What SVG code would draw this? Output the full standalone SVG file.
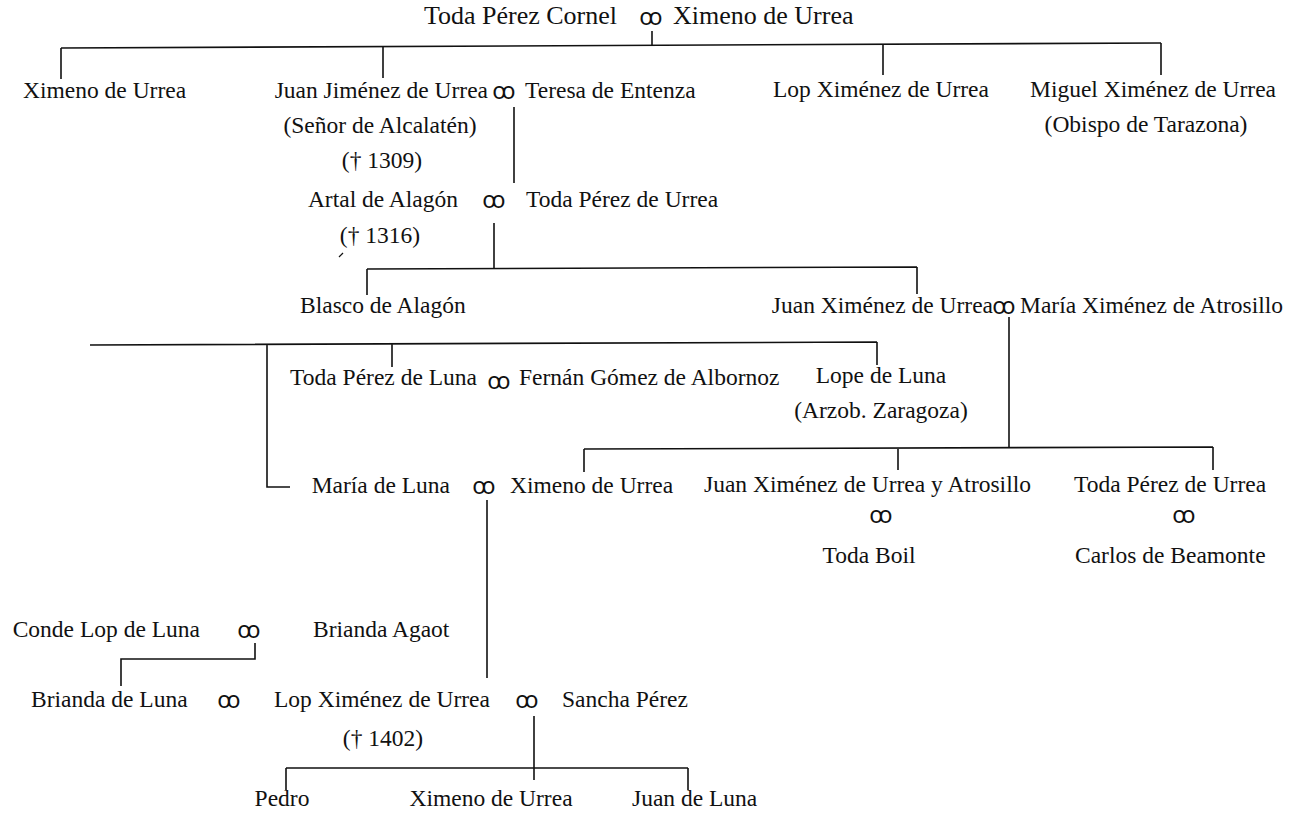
<svg xmlns="http://www.w3.org/2000/svg" width="1290" height="815" viewBox="0 0 1290 815">
<style>
text{font-family:"Liberation Serif","Times New Roman",serif;font-size:23.5px;fill:#111}
.t{font-size:26px}
.m{font-family:"Noto Sans","DejaVu Sans",sans-serif;font-size:23px;font-weight:normal;text-anchor:middle}
.e{text-anchor:end}
.mid{text-anchor:middle}
.c{fill:none;stroke:#111;stroke-width:1.6}
</style>
<rect width="1290" height="815" fill="#fff"/>
<g id="connectors" class="c">
<path d="M652,31V46"/>
<path d="M61,48L1161,43"/>
<path d="M61,48V79M383,46.5V78M883,44.3V75M1161,43V75"/>
<path d="M514,107V183"/>
<path d="M494,223V268"/>
<path d="M367,269L917,267M367,269V295M917,267V294"/>
<path d="M1009,317V447"/>
<path d="M90,345L877,342M267,345V487H290M392,344.5V367M877,342V365"/>
<path d="M584,449L1213,447M584,449V472M898,447.5V470M1213,447V470"/>
<path d="M487,500V678"/>
<path d="M255,643V659H121V686"/>
<path d="M534,716V780"/>
<path d="M286,768H688M286,768V790M688,768V790"/>
<path d="M339,257L343,253" stroke-width="1.2"/>
</g>
<g id="n-toda-cornel"><text x="617" y="24" class="t e">Toda Pérez Cornel</text></g>
<g id="m1"><text x="651" y="25" class="m">ꝏ</text></g>
<g id="n-ximeno-1"><text x="673" y="24" class="t">Ximeno de Urrea</text></g>
<g id="n-ximeno-2"><text x="23" y="98">Ximeno de Urrea</text></g>
<g id="n-juan-jimenez"><text x="488" y="98" class="e">Juan Jiménez de Urrea</text><text x="380" y="133" class="mid">(Señor de Alcalatén)</text><text x="382" y="168" class="mid">(† 1309)</text></g>
<g id="m2"><text x="504" y="99" class="m">ꝏ</text></g>
<g id="n-teresa"><text x="525" y="98">Teresa de Entenza</text></g>
<g id="n-lop-1"><text x="773" y="97">Lop Ximénez de Urrea</text></g>
<g id="n-miguel"><text x="1030" y="97">Miguel Ximénez de Urrea</text><text x="1146" y="132" class="mid">(Obispo de Tarazona)</text></g>
<g id="n-artal"><text x="458" y="207" class="e">Artal de Alagón</text><text x="380" y="243" class="mid">(† 1316)</text></g>
<g id="m3"><text x="494" y="208" class="m">ꝏ</text></g>
<g id="n-toda-urrea-1"><text x="526" y="207">Toda Pérez de Urrea</text></g>
<g id="n-blasco"><text x="300" y="313">Blasco de Alagón</text></g>
<g id="n-juan-ximenez"><text x="993" y="313" class="e">Juan Ximénez de Urrea</text></g>
<g id="m4"><text x="1004" y="314" class="m">ꝏ</text></g>
<g id="n-maria-atrosillo"><text x="1020" y="313">María Ximénez de Atrosillo</text></g>
<g id="n-toda-luna"><text x="477" y="385" class="e">Toda Pérez de Luna</text></g>
<g id="m5"><text x="499" y="389" class="m">ꝏ</text></g>
<g id="n-fernan"><text x="519" y="385">Fernán Gómez de Albornoz</text></g>
<g id="n-lope"><text x="881" y="383" class="mid">Lope de Luna</text><text x="881" y="418" class="mid">(Arzob. Zaragoza)</text></g>
<g id="n-maria-luna"><text x="450" y="493" class="e">María de Luna</text></g>
<g id="m6"><text x="484" y="494" class="m">ꝏ</text></g>
<g id="n-ximeno-3"><text x="510" y="493">Ximeno de Urrea</text></g>
<g id="n-juan-atrosillo"><text x="704" y="492">Juan Ximénez de Urrea y Atrosillo</text></g>
<g id="m7"><text x="881" y="523" class="m">ꝏ</text></g>
<g id="n-toda-boil"><text x="869" y="563" class="mid">Toda Boil</text></g>
<g id="n-toda-urrea-2"><text x="1074" y="492">Toda Pérez de Urrea</text></g>
<g id="m8"><text x="1184" y="523" class="m">ꝏ</text></g>
<g id="n-carlos"><text x="1075" y="563">Carlos de Beamonte</text></g>
<g id="n-conde"><text x="200" y="637" class="e">Conde Lop de Luna</text></g>
<g id="m9"><text x="249" y="638" class="m">ꝏ</text></g>
<g id="n-brianda-agaot"><text x="313" y="637">Brianda Agaot</text></g>
<g id="n-brianda-luna"><text x="31" y="707">Brianda de Luna</text></g>
<g id="m10"><text x="229" y="708" class="m">ꝏ</text></g>
<g id="n-lop-2"><text x="274" y="707">Lop Ximénez de Urrea</text><text x="383" y="746" class="mid">(† 1402)</text></g>
<g id="m11"><text x="527" y="708" class="m">ꝏ</text></g>
<g id="n-sancha"><text x="562" y="707">Sancha Pérez</text></g>
<g id="n-pedro"><text x="282" y="806" class="mid">Pedro</text></g>
<g id="n-ximeno-4"><text x="491" y="806" class="mid">Ximeno de Urrea</text></g>
<g id="n-juan-luna"><text x="632" y="806">Juan de Luna</text></g>
</svg>
